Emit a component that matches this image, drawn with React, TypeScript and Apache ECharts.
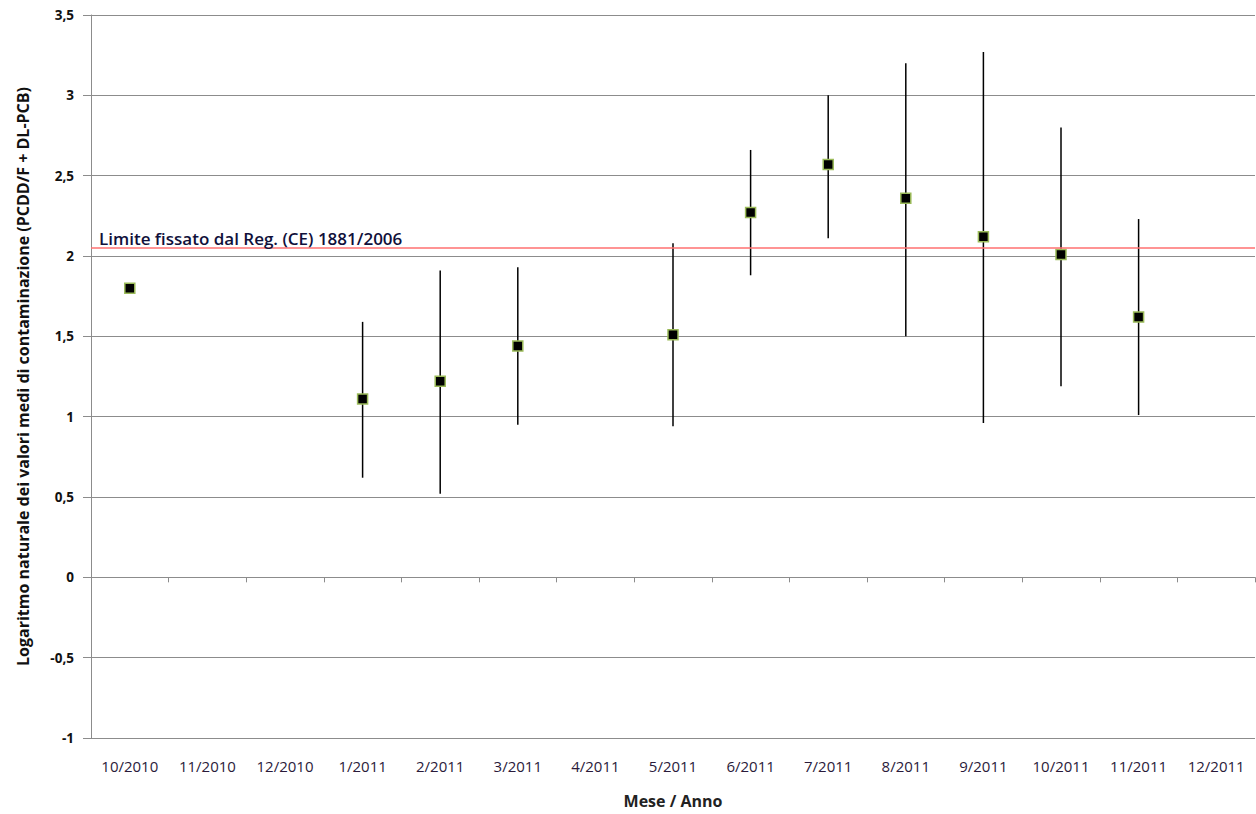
import React, { useEffect, useRef } from "react";
import * as echarts from "echarts";

const categories = ["10/2010", "11/2010", "12/2010", "1/2011", "2/2011", "3/2011", "4/2011", "5/2011", "6/2011", "7/2011", "8/2011", "9/2011", "10/2011", "11/2011", "12/2011"];
const means: (number | null)[] = [1.80, null, null, 1.11, 1.22, 1.44, null, 1.51, 2.27, 2.57, 2.36, 2.12, 2.01, 1.62, null];
const lows: (number | null)[] = [null, null, null, 0.62, 0.52, 0.95, null, 0.94, 1.88, 2.11, 1.50, 0.96, 1.19, 1.01, null];
const highs: (number | null)[] = [null, null, null, 1.59, 1.91, 1.93, null, 2.08, 2.66, 3.00, 3.20, 3.27, 2.80, 2.23, null];
const limitValue = 2.05;
const limitLabel = "Limite fissato dal Reg. (CE) 1881/2006";
const yAxisName = "Logaritmo naturale dei valori medi di contaminazione (PCDD/F + DL-PCB)";
const xAxisName = "Mese / Anno";

const FONT = "'Open Sans', 'Noto Sans', sans-serif";

export default function App() {
  const ref = useRef<HTMLDivElement>(null);
  useEffect(() => {
    if (!ref.current) return;
    const chart = echarts.init(ref.current, undefined, { renderer: "svg" });
    const errData: any[] = [];
    categories.forEach((c, i) => {
      if (lows[i] != null && highs[i] != null) errData.push([i, lows[i], highs[i]]);
    });
    const pointData = categories.map((c, i) => [i, means[i]]).filter((d) => d[1] != null);
    chart.setOption({
      animation: false,
      textStyle: { fontFamily: FONT },
      grid: { left: 91, right: 1, top: 15, bottom: 75 },
      xAxis: {
        type: "category",
        data: categories,
        boundaryGap: true,
        name: xAxisName,
        nameLocation: "middle",
        nameGap: 55,
        nameTextStyle: { fontFamily: FONT, fontWeight: "bold", fontSize: 16, color: "#222" },
        axisLine: { lineStyle: { color: "#8c8c8c", width: 1 } },
        axisTick: { show: true, length: 5, alignWithLabel: false, lineStyle: { color: "#8c8c8c" } },
        axisLabel: { interval: 0, margin: 20, fontSize: 15, color: "#2a1a3a", fontFamily: FONT },
        splitLine: { show: false },
      },
      yAxis: {
        type: "value",
        min: -1,
        max: 3.5,
        interval: 0.5,
        name: yAxisName,
        nameLocation: "middle",
        nameGap: 60,
        nameRotate: 90,
        nameTextStyle: { fontFamily: FONT, fontWeight: "bold", fontSize: 16, color: "#111" },
        axisLine: { show: true, lineStyle: { color: "#8c8c8c", width: 1 } },
        axisTick: { show: true, length: 8, inside: false, lineStyle: { color: "#8c8c8c" } },
        axisLabel: {
          margin: 17,
          fontSize: 13.5,
          fontWeight: "bold",
          color: "#111",
          fontFamily: FONT,
          formatter: (v: number) => String(v).replace(".", ","),
        },
        splitLine: { show: true, lineStyle: { color: "#8c8c8c", width: 1 } },
      },
      series: [
        {
          type: "custom",
          name: "err",
          data: errData,
          z: 2,
          renderItem: (params: any, api: any) => {
            const x = api.coord([api.value(0), api.value(1)]);
            const y = api.coord([api.value(0), api.value(2)]);
            return {
              type: "line",
              shape: { x1: x[0], y1: x[1], x2: y[0], y2: y[1] },
              style: { stroke: "#000", lineWidth: 1.5 },
            };
          },
        },
        {
          type: "scatter",
          name: "media",
          data: pointData,
          symbol: "rect",
          symbolSize: 10,
          z: 3,
          itemStyle: { color: "#000", borderColor: "#9bbb59", borderWidth: 1.5, opacity: 1 },
          markLine: {
            silent: true,
            symbol: "none",
            lineStyle: { color: "#ff7070", width: 1.5, type: "solid" },
            label: {
              show: true,
              position: "insideStartTop",
              formatter: limitLabel,
              fontFamily: FONT,
              fontSize: 17,
              fontWeight: 600,
              color: "#10103a",
              distance: [8, 1],
            },
            data: [{ yAxis: limitValue }],
          },
        },
      ],
    });
    return () => chart.dispose();
  }, []);
  return <div ref={ref} style={{ position: "fixed", left: 0, top: 0, width: 1256, height: 814, background: "#fff" }} />;
}
